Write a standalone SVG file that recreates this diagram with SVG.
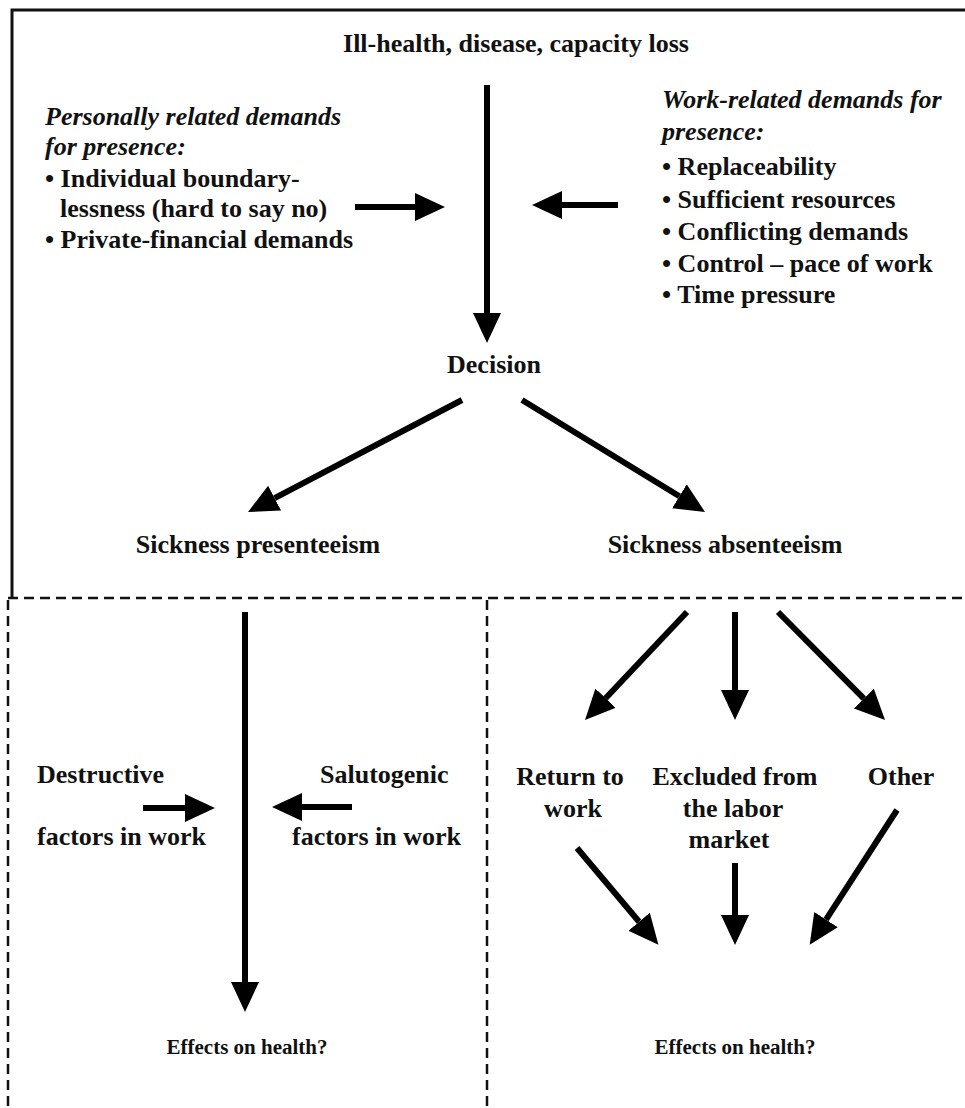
<svg xmlns="http://www.w3.org/2000/svg" width="965" height="1108" viewBox="0 0 965 1108">
<style>
  .t { font-family: "Liberation Serif", "Times New Roman", serif; font-weight: bold; font-size: 26px; fill: #111; }
  .i { font-style: italic; }
  .m { text-anchor: middle; }
  .s { font-size: 21px; }
  .solid { stroke: #111; stroke-width: 3; fill: none; }
  .dash { stroke: #111; stroke-width: 2.5; fill: none; stroke-dasharray: 10 6; }
  .arr { stroke: #000; stroke-width: 6; fill: none; marker-end: url(#head); }
</style>
<defs>
  <marker id="head" markerUnits="userSpaceOnUse" viewBox="0 -15 30 30" refX="0" refY="0" markerWidth="30" markerHeight="30" orient="auto">
    <path d="M0,-14 L30,0 L0,14 Z" fill="#000"/>
  </marker>
</defs>
<rect width="965" height="1108" fill="#fff"/>

<g id="frame">
  <polyline class="solid" points="12,597 12,10 965,10"/>
  <line class="dash" x1="8" y1="598" x2="965" y2="598"/>
  <line class="dash" x1="8" y1="600" x2="8" y2="1108"/>
  <line class="dash" x1="487" y1="600" x2="487" y2="1108"/>
</g>

<g id="connectors">
  <line class="arr" x1="487" y1="85" x2="487" y2="313"/>
  <line class="arr" x1="355" y1="207" x2="415" y2="207"/>
  <line class="arr" x1="618" y1="205" x2="562" y2="205"/>
  <line class="arr" x1="462" y1="400" x2="274.6" y2="498.1"/>
  <line class="arr" x1="522" y1="400" x2="679.4" y2="496.3"/>
  <line class="arr" x1="245" y1="612" x2="245" y2="982"/>
  <line class="arr" x1="143" y1="808" x2="185" y2="808"/>
  <line class="arr" x1="352" y1="807" x2="302" y2="807"/>
  <line class="arr" x1="687" y1="612" x2="605.6" y2="698.2"/>
  <line class="arr" x1="735" y1="612" x2="735" y2="690"/>
  <line class="arr" x1="778" y1="612" x2="863.9" y2="698.7"/>
  <line class="arr" x1="577" y1="848" x2="639.1" y2="921.7"/>
  <line class="arr" x1="735" y1="863" x2="735" y2="915"/>
  <line class="arr" x1="897" y1="810" x2="826" y2="919.6"/>
</g>

<g id="ill-health">
  <text class="t m" x="516" y="52">Ill-health, disease, capacity loss</text>
</g>

<g id="personal-demands">
  <text class="t i" x="45" y="125">Personally related demands</text>
  <text class="t i" x="45" y="155">for presence:</text>
  <text class="t" x="45" y="187">• Individual boundary-</text>
  <text class="t" x="60" y="217">lessness (hard to say no)</text>
  <text class="t" x="45" y="248">• Private-financial demands</text>
</g>

<g id="work-demands">
  <text class="t i" x="662" y="108">Work-related demands for</text>
  <text class="t i" x="662" y="140">presence:</text>
  <text class="t" x="662" y="175">• Replaceability</text>
  <text class="t" x="662" y="208">• Sufficient resources</text>
  <text class="t" x="662" y="240">• Conflicting demands</text>
  <text class="t" x="662" y="272">• Control – pace of work</text>
  <text class="t" x="662" y="303">• Time pressure</text>
</g>

<g id="decision">
  <text class="t m" x="494" y="373">Decision</text>
</g>

<g id="presenteeism">
  <text class="t m" x="258" y="553">Sickness presenteeism</text>
</g>

<g id="absenteeism">
  <text class="t m" x="725" y="553">Sickness absenteeism</text>
</g>

<g id="destructive">
  <text class="t" x="37" y="783">Destructive</text>
  <text class="t" x="37" y="845">factors in work</text>
</g>

<g id="salutogenic">
  <text class="t" x="320" y="783">Salutogenic</text>
  <text class="t" x="292" y="845">factors in work</text>
</g>

<g id="return">
  <text class="t m" x="570" y="785">Return to</text>
  <text class="t m" x="573" y="817">work</text>
</g>

<g id="excluded">
  <text class="t m" x="735" y="785">Excluded from</text>
  <text class="t m" x="733" y="817">the labor</text>
  <text class="t m" x="729" y="848">market</text>
</g>

<g id="other">
  <text class="t m" x="901" y="785">Other</text>
</g>

<g id="effects-left">
  <text class="t m s" x="247" y="1054">Effects on health?</text>
</g>

<g id="effects-right">
  <text class="t m s" x="735" y="1054">Effects on health?</text>
</g>
</svg>
